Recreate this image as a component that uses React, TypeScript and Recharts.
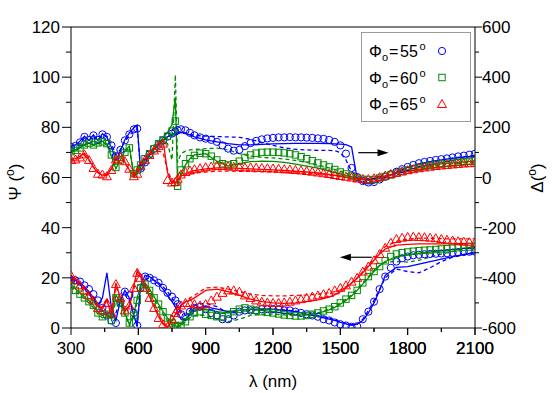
import { LineChart, Line, XAxis, YAxis, ReferenceLine, Legend } from "recharts";

// wavelength grids (nm): measured points and model curves
const WL_MARK = [
  300, 320, 340, 360, 380, 400, 420, 440, 460, 480,
  500, 520, 540, 560, 580, 595, 610, 630, 650, 670,
  690, 710, 730, 750, 765, 775, 790, 810, 830, 850,
  875, 900, 925, 950, 975, 1000, 1025, 1050, 1075, 1100,
  1125, 1150, 1175, 1200, 1225, 1250, 1275, 1300, 1325, 1350,
  1375, 1400, 1425, 1450, 1475, 1500, 1525, 1550, 1575, 1600,
  1625, 1650, 1675, 1700, 1725, 1750, 1775, 1800, 1825, 1850,
  1875, 1900, 1925, 1950, 1975, 2000, 2025, 2050, 2075, 2100,
];
const WL_FIT = [
  300, 320, 340, 360, 380, 400, 420, 440, 460, 480,
  500, 520, 540, 560, 580, 595, 610, 630, 650, 670,
  690, 710, 730, 750, 765, 775, 790, 810, 830, 850,
  900, 950, 1000, 1050, 1100, 1150, 1200, 1250, 1300, 1350,
  1400, 1450, 1475, 1500, 1525, 1550, 1575, 1600, 1625, 1650,
  1675, 1700, 1750, 1800, 1850, 1900, 1950, 2000, 2050, 2100,
];

const ANGLES = [55, 60, 65];

// measured Δ (deg, right axis)
const DEL_55 = [
  122, 126, 140, 162, 150, 168, 150, 172, 162, 128,
  85, 110, 148, 172, 192, 195, 35, 60, 92, 115,
  130, 148, 163, 175, 183, 188, 192, 188, 178, 168,
  160, 155, 150, 142, 128, 115, 107, 110, 125, 137,
  146, 152, 156, 158, 160, 160, 161, 160, 160, 159,
  158, 156, 154, 150, 142, 128, 95, 38, 2, -14,
  -20, -18, -8, 3, 13, 23, 33, 42, 50, 57,
  62, 66, 70, 73, 76, 80, 84, 87, 91, 95,
];
const DEL_60 = [
  103, 108, 118, 130, 137, 130, 138, 142, 135, 90,
  40, 70, 100, 118, 15, 30, 50, 75, 95, 115,
  135, 150, 165, 185, 225, -35, 30, 55, 75, 88,
  97, 95, 85, 70, 55, 50, 55, 65, 80, 90,
  97, 100, 101, 101, 100, 98, 95, 90, 83, 75,
  67, 58, 50, 42, 32, 22, 14, 6, -2, -7,
  -10, -8, -2, 4, 10, 17, 24, 30, 35, 40,
  44, 48, 51, 54, 56, 58, 61, 63, 65, 67,
];
const DEL_65 = [
  70, 72, 80, 92, 70, 38, 15, 12, 5, 30,
  72, 82, 65, 35, 5, 15, 45, 70, 90, 108,
  125, 135, -10, -20, -18, -5, 12, 22, 28, 33,
  37, 41, 44, 46, 46, 45, 43, 41, 40, 40,
  39, 38, 37, 36, 35, 33, 32, 30, 28, 26,
  23, 20, 17, 14, 10, 6, 3, 0, -4, -6,
  -6, -3, 2, 8, 14, 19, 24, 29, 33, 37,
  40, 43, 46, 48, 50, 52, 54, 56, 57, 58,
];

// measured Ψ (deg, left axis)
const PSI_55 = [
  19, 19, 18.5, 17, 15.5, 13.5, 11, 8, 5, 3,
  2, 10, 14.5, 13, 6, 1, 16, 20.5, 20, 19,
  18, 16, 14, 12.5, 11, 9.5, 5.5, 4.5, 6.5, 8,
  8.5, 7.5, 6, 5, 3.5, 3.5, 5, 6.5, 7, 7,
  7, 7.5, 7.5, 7.5, 7.5, 7, 7, 6.5, 6, 5.5,
  5, 4.5, 3.5, 3, 2.2, 1.5, 1, 0.5, 0.7, 3.5,
  6.5, 10.5, 15.5, 20.5, 24, 26.5, 27.8, 28.5, 29, 29.2,
  29.4, 29.5, 29.6, 29.7, 29.8, 30, 30.1, 30.3, 30.4, 30.5,
];
const PSI_60 = [
  17, 15, 13.5, 12, 10.5, 9, 6, 4.5, 5.5, 3,
  12, 10, 6, 2, 5, 11, 16, 17.5, 15, 12,
  9.5, 6.5, 4, 2, 1, 0.5, 1, 2.5, 4.5, 6,
  6.5, 5.5, 5, 4.5, 4.5, 5.5, 6.5, 7.5, 8, 7.5,
  7, 6.5, 6.2, 6, 5.6, 5.2, 5, 4.8, 4.8, 5,
  5.5, 6, 6.8, 7.5, 8.5, 10, 11.5, 13, 15, 18,
  20.5, 22.5, 24.5, 26.8, 28.5, 29.5, 30, 30.3, 30.6, 30.8,
  31, 31.1, 31.3, 31.5, 31.6, 31.8, 32, 32.1, 32.3, 32.4,
];
const PSI_65 = [
  21, 19, 17, 15, 13, 11, 8, 7, 10, 6,
  17.5, 12, 7, 9, 16, 22, 20, 16, 12, 8,
  4, 1.5, 0.5, 3.5, 6, 7.5, 9, 10, 10, 9.5,
  9, 9.5, 11, 12.5, 14, 15, 15, 14.5, 13, 12,
  11, 10.5, 10.2, 10, 10, 10.2, 10.5, 11, 11.5, 12,
  12.5, 13, 13.5, 14, 15, 16, 17, 18.5, 20, 22.5,
  24.5, 27, 29.5, 32, 34, 35.5, 36, 36.3, 36.4, 36.3,
  36.2, 36, 35.8, 35.5, 35.2, 34.9, 34.6, 34.4, 34.2, 34,
];

// model curves: solid (FIT) and dashed (ALT)
const DEL_55_FIT = [
  125, 130, 145, 165, 148, 170, 148, 175, 160, 120,
  70, 105, 150, 178, 198, 208, 25, 55, 88, 112,
  130, 148, 162, 172, 178, 180, 180, 176, 170, 162,
  150, 142, 135, 130, 130, 132, 134, 135, 136, 136,
  136, 135, 134, 133, 131, 122, -5, -22, -25, -22,
  -12, 0, 22, 40, 54, 63, 70, 76, 81, 86,
];
const DEL_55_ALT = [
  118, 124, 135, 158, 148, 162, 150, 168, 165, 135,
  90, 112, 145, 168, 185, 195, 40, 62, 92, 115,
  130, 145, 158, 168, 175, 178, 180, 178, 172, 168,
  165, 163, 162, 160, 152, 140, 128, 118, 112, 110,
  108, 108, 107, 100, 70, 25, 0, -15, -20, -18,
  -10, 0, 20, 38, 52, 62, 70, 77, 83, 88,
];
const DEL_60_FIT = [
  100, 106, 118, 132, 138, 128, 140, 145, 130, 85,
  35, 72, 105, 125, 5, 25, 48, 72, 95, 118,
  138, 158, 180, 210, 320, -35, 20, 50, 75, 90,
  95, 65, 45, 55, 63, 65, 64, 60, 53, 45,
  37, 25, 20, 14, 8, 3, -3, -8, -11, -9,
  -3, 4, 18, 30, 40, 48, 54, 58, 62, 65,
];
const DEL_60_ALT = [
  105, 110, 120, 128, 135, 132, 135, 138, 135, 100,
  50, 75, 100, 120, 10, 28, 50, 75, 98, 120,
  140, 150, 135, 70, 410, 60, 95, 105, 110, 112,
  115, 117, 110, 95, 85, 80, 78, 74, 68, 60,
  50, 38, 32, 25, 18, 10, 2, -5, -8, -6,
  0, 6, 18, 28, 36, 43, 49, 54, 58, 62,
];
const DEL_65_FIT = [
  72, 75, 85, 97, 72, 40, 18, 10, 8, 35,
  78, 85, 62, 30, 3, 18, 45, 72, 95, 115,
  135, 150, 20, -22, -20, -10, 5, 15, 22, 27,
  34, 38, 38, 36, 34, 32, 30, 28, 25, 22,
  18, 12, 9, 5, 1, -3, -6, -8, -7, -4,
  1, 6, 16, 25, 32, 38, 43, 47, 51, 54,
];
const DEL_65_ALT = [
  65, 68, 78, 88, 68, 42, 20, 15, 12, 35,
  70, 78, 58, 28, 5, 15, 40, 65, 88, 100,
  105, 100, 30, -15, -15, -8, 2, 10, 15, 18,
  22, 25, 26, 25, 24, 23, 22, 20, 18, 16,
  13, 9, 6, 3, 0, -3, -5, -6, -5, -2,
  2, 7, 16, 24, 31, 37, 42, 46, 50, 53,
];
const PSI_55_FIT = [
  19.5, 19, 18, 16.5, 14.5, 12, 9, 12, 22, 8,
  3, 11, 15, 12, 5, 0.5, 17, 21, 20.5, 19,
  17.5, 15.5, 13, 10.5, 8.5, 6.5, 3.5, 3, 6, 8,
  8.5, 7.5, 6.5, 7, 7.5, 7.5, 7.5, 7, 6.5, 5.5,
  4.5, 3.5, 3, 2.2, 1.6, 1.2, 1.5, 3, 6, 10,
  15, 21, 24.2, 24.5, 25.5, 26.5, 27.5, 28.5, 29.3, 30,
];
const PSI_55_ALT = [
  19, 18.5, 17.5, 16, 14, 12.5, 10, 7, 5, 4,
  6, 11, 13.5, 11, 5, 2, 15, 19.5, 20, 19,
  18, 16.5, 14.5, 12, 10, 8.5, 6, 5, 7, 9,
  10, 8.5, 6, 6, 7, 7.5, 7.5, 7.2, 6.8, 6,
  5, 4, 3.2, 2.5, 1.8, 1.2, 1.5, 3.5, 7, 11,
  15.5, 20, 23.5, 22.5, 22, 24, 26.5, 28.2, 29.2, 30.2,
];
const PSI_60_FIT = [
  17.5, 15.5, 14, 12.5, 11, 9, 6.5, 5, 6, 3.5,
  13, 10.5, 6, 1.5, 5.5, 12, 17, 18, 15.5, 12.5,
  9.5, 6.5, 4, 2, 1, 0.5, 1.5, 3.5, 5.5, 7,
  7.5, 6.5, 6, 7, 7.5, 7, 6.5, 5.8, 5.2, 5.2,
  5.8, 7.2, 8.2, 9.5, 11, 12.8, 15, 17.5, 20, 22.5,
  24.8, 26.5, 28.5, 29.2, 29.8, 30.3, 30.8, 31.3, 31.8, 32.3,
];
const PSI_60_ALT = [
  16.5, 14.5, 13, 11.5, 10, 8, 5.5, 4, 5, 3,
  11, 9.5, 5, 1, 4.5, 10.5, 15.5, 17, 14.5, 11.5,
  8.5, 5.5, 3, 1.2, 0.5, 0.3, 1, 2.5, 4, 5,
  5, 3.5, 2.5, 3.5, 5, 5.5, 5.5, 5.2, 5, 5.2,
  6, 7.5, 8.5, 10, 11.5, 13.2, 15.5, 18, 20.5, 23,
  25, 26.2, 26.5, 26.3, 27, 28.3, 29.5, 30.5, 31.5, 32.3,
];
const PSI_65_FIT = [
  21, 19.5, 17.5, 15.5, 13.5, 11, 8.5, 8, 11, 5,
  18, 12, 6.5, 9, 17, 23, 20.5, 16.5, 12.5, 8.5,
  4.5, 1.5, 0.3, 3, 5.5, 7, 9, 10.5, 11, 12,
  15, 15.5, 14.5, 13, 11.5, 10.5, 10, 9.8, 10, 10.5,
  11.2, 12.3, 13.2, 14.5, 16, 17.8, 19.8, 22, 24.5, 27,
  29.5, 31.5, 33, 33.3, 33.5, 33.5, 33.5, 33.6, 33.7, 33.8,
];
const PSI_65_ALT = [
  20, 18.5, 16.5, 14.5, 12.5, 10.5, 8, 8.5, 12, 6,
  16.5, 12, 7, 8.5, 15.5, 21.5, 20, 16.5, 13, 9,
  5, 2, 0.5, 2.5, 5, 6.5, 8.5, 10.5, 12, 13,
  16, 16.3, 15.5, 14.5, 13.5, 13, 12.8, 12.8, 13, 13.2,
  13.5, 14, 14.5, 15.2, 16.5, 18, 20, 22.5, 25, 27.5,
  30, 32.5, 34.5, 35.5, 35.8, 35.8, 35.6, 35.5, 35.5, 35.6,
];

const X_TICKS = [300, 450, 600, 750, 900, 1050, 1200, 1350, 1500, 1650, 1800, 1950, 2100];
const PSI_TICKS = [0, 10, 20, 30, 40, 50, 60, 70, 80, 90, 100, 110, 120];
const DEL_TICKS = [-600, -500, -400, -300, -200, -100, 0, 100, 200, 300, 400, 500, 600];

const BLUE = "#0000ff";
const GREEN = "#008c00";
const RED = "#ff0000";
const COLORS = [BLUE, GREEN, RED];
const FONT = "'Liberation Sans', Arial, sans-serif";

const pts = (xs: number[], ys: number[]) => xs.map((x, i) => ({ x, y: ys[i] }));

const MARKS = [
  { psi: PSI_55, del: DEL_55 },
  { psi: PSI_60, del: DEL_60 },
  { psi: PSI_65, del: DEL_65 },
];
const FITS = [
  { psi: PSI_55_FIT, psiAlt: PSI_55_ALT, del: DEL_55_FIT, delAlt: DEL_55_ALT },
  { psi: PSI_60_FIT, psiAlt: PSI_60_ALT, del: DEL_60_FIT, delAlt: DEL_60_ALT },
  { psi: PSI_65_FIT, psiAlt: PSI_65_ALT, del: DEL_65_FIT, delAlt: DEL_65_ALT },
];

function Marker({ kind, cx, cy, color }: any) {
  if (cx == null || cy == null) return null;
  if (kind === 0) return <circle cx={cx} cy={cy} r={3.6} fill="none" stroke={color} strokeWidth={1} />;
  if (kind === 1)
    return <rect x={cx - 3.2} y={cy - 3.2} width={6.4} height={6.4} fill="none" stroke={color} strokeWidth={1} />;
  return (
    <path
      d={`M${cx},${cy - 4.5}L${cx + 4.5},${cy + 3.5}L${cx - 4.5},${cy + 3.5}Z`}
      fill="none"
      stroke={color}
      strokeWidth={1}
    />
  );
}

const dotFor = (kind: number, color: string) => (p: any) =>
  <Marker key={p.key ?? `${kind}-${p.index}`} kind={kind} cx={p.cx} cy={p.cy} color={color} />;

function BottomTick({ x, y, payload }: any) {
  const major = payload.value % 300 === 0;
  return (
    <g>
      <line x1={x} y1={y} x2={x} y2={y + (major ? 7 : 4)} stroke="#000" />
      {major && (
        <text x={x} y={y + 26} textAnchor="middle" fontSize={17} fontFamily={FONT} fill="#000">
          {payload.value}
        </text>
      )}
    </g>
  );
}

function LeftTick({ x, y, payload }: any) {
  const major = payload.value % 20 === 0;
  return (
    <g>
      <line x1={x} y1={y} x2={x - (major ? 9 : 5)} y2={y} stroke="#000" />
      {major && (
        <text x={x - 11} y={y + 6} textAnchor="end" fontSize={17} fontFamily={FONT} fill="#000">
          {payload.value}
        </text>
      )}
    </g>
  );
}

function RightTick({ x, y, payload }: any) {
  const major = payload.value % 200 === 0;
  return (
    <g>
      <line x1={x} y1={y} x2={x + (major ? 7 : 4)} y2={y} stroke="#000" />
      {major && (
        <text x={x + 7} y={y + 6} textAnchor="start" fontSize={17} fontFamily={FONT} fill="#000">
          {payload.value}
        </text>
      )}
    </g>
  );
}

function Arrow({ x1, y1, x2, y2 }: any) {
  const dir = x2 > x1 ? 1 : -1;
  return (
    <g>
      <line x1={x1} y1={y1} x2={x2 - dir * 8} y2={y2} stroke="#000" strokeWidth={1.2} />
      <path d={`M${x2},${y2}L${x2 - dir * 11},${y2 - 3.5}L${x2 - dir * 11},${y2 + 3.5}Z`} fill="#000" />
    </g>
  );
}

function LegendBox() {
  return (
    <svg width={110} height={90} style={{ display: "block" }}>
      <rect x={0.5} y={0.5} width={109} height={89} fill="#fff" stroke="#9a9a9a" />
      {ANGLES.map((a, i) => {
        const base = 25 + i * 26.5;
        return (
          <g key={a} fontFamily={FONT} fill="#000">
            <text x={8} y={base} fontSize={16}>Φ</text>
            <text x={21} y={base + 4} fontSize={11}>o</text>
            <text x={28} y={base} fontSize={16}>=</text>
            <text x={39} y={base} fontSize={16}>{a}</text>
            <text x={58.5} y={base - 7} fontSize={11}>o</text>
            <Marker kind={i} cx={81} cy={base - 6} color={COLORS[i]} />
          </g>
        );
      })}
    </svg>
  );
}

export default function App() {
  return (
    <div style={{ position: "absolute", left: 0, top: 0, background: "#fff", fontFamily: FONT }}>
      <LineChart width={554} height={393} margin={{ top: 27, right: 0, bottom: 0, left: 0 }}>
        <XAxis
          type="number"
          dataKey="x"
          domain={[300, 2100]}
          ticks={X_TICKS.concat(X_TICKS.slice(0, -1).map((t) => t + 150)).sort((a, b) => a - b)}
          interval={0}
          allowDataOverflow
          height={65}
          stroke="#000"
          tickLine={false}
          tickSize={0}
          tickMargin={0}
          tick={(p: any) => <BottomTick {...p} />}
          label={{
            content: () => (
              <text x={273} y={387} textAnchor="middle" fontSize={17} fontFamily={FONT} fill="#000">
                λ (nm)
              </text>
            ),
          }}
        />
        <YAxis
          yAxisId="left"
          domain={[0, 120]}
          ticks={PSI_TICKS}
          interval={0}
          allowDataOverflow
          width={71}
          stroke="#000"
          tickLine={false}
          tickSize={0}
          tickMargin={0}
          tick={(p: any) => <LeftTick {...p} />}
          label={{
            content: () => (
              <text
                x={21}
                y={182}
                textAnchor="middle"
                fontSize={17}
                fontFamily={FONT}
                fill="#000"
                transform="rotate(-90 21 182)"
              >
                Ψ (<tspan fontSize={12} dy={-7}>o</tspan>
                <tspan dy={7}>)</tspan>
              </text>
            ),
          }}
        />
        <YAxis
          yAxisId="right"
          orientation="right"
          domain={[-600, 600]}
          ticks={DEL_TICKS}
          interval={0}
          allowDataOverflow
          width={79}
          stroke="#000"
          tickLine={false}
          tickSize={0}
          tickMargin={0}
          tick={(p: any) => <RightTick {...p} />}
          label={{
            content: () => (
              <text
                x={543}
                y={178}
                textAnchor="middle"
                fontSize={17}
                fontFamily={FONT}
                fill="#000"
                transform="rotate(-90 543 178)"
              >
                Δ(<tspan fontSize={12} dy={-7}>o</tspan>
                <tspan dy={7}>)</tspan>
              </text>
            ),
          }}
        />
        <ReferenceLine yAxisId="left" y={120} stroke="#000" />

        {FITS.map((f, i) => [
          <Line key={`ps${i}`} yAxisId="left" data={pts(WL_FIT, f.psi)} dataKey="y" stroke={COLORS[i]}
            strokeWidth={1.3} dot={false} activeDot={false} isAnimationActive={false} legendType="none" />,
          <Line key={`pd${i}`} yAxisId="left" data={pts(WL_FIT, f.psiAlt)} dataKey="y" stroke={COLORS[i]}
            strokeWidth={1.3} strokeDasharray="4 3" dot={false} activeDot={false} isAnimationActive={false} legendType="none" />,
          <Line key={`ds${i}`} yAxisId="right" data={pts(WL_FIT, f.del)} dataKey="y" stroke={COLORS[i]}
            strokeWidth={1.3} dot={false} activeDot={false} isAnimationActive={false} legendType="none" />,
          <Line key={`dd${i}`} yAxisId="right" data={pts(WL_FIT, f.delAlt)} dataKey="y" stroke={COLORS[i]}
            strokeWidth={1.3} strokeDasharray="4 3" dot={false} activeDot={false} isAnimationActive={false} legendType="none" />,
        ])}

        {MARKS.map((m, i) => [
          <Line key={`pm${i}`} yAxisId="left" data={pts(WL_MARK, m.psi)} dataKey="y" stroke="none"
            dot={dotFor(i, COLORS[i])} activeDot={false} isAnimationActive={false} legendType="none" />,
          <Line key={`dm${i}`} yAxisId="right" data={pts(WL_MARK, m.del)} dataKey="y" stroke="none"
            dot={dotFor(i, COLORS[i])} activeDot={false} isAnimationActive={false} legendType="none" />,
        ])}

        <ReferenceLine
          yAxisId="right"
          segment={[{ x: 1580, y: 99 }, { x: 1715, y: 99 }]}
          shape={(p: any) => <Arrow {...p} />}
        />
        <ReferenceLine
          yAxisId="left"
          segment={[{ x: 1640, y: 28.2 }, { x: 1498, y: 28.2 }]}
          shape={(p: any) => <Arrow {...p} />}
        />

        <Legend
          layout="vertical"
          align="center"
          verticalAlign="middle"
          wrapperStyle={{ left: 361, top: 32, width: 110, height: 90 }}
          content={() => <LegendBox />}
        />
      </LineChart>
    </div>
  );
}
